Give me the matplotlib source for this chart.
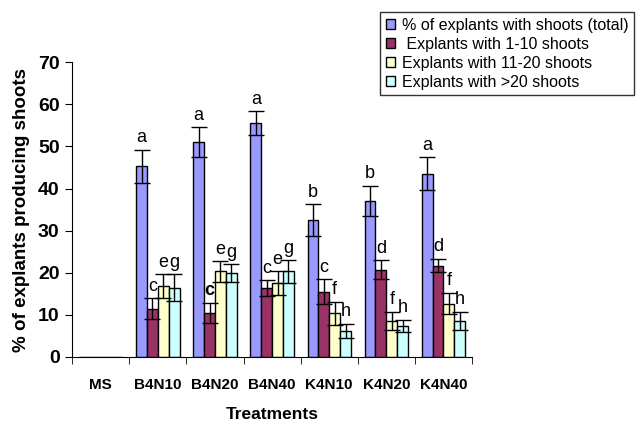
import numpy as np
import matplotlib.pyplot as plt
from matplotlib.patches import Patch

plt.rcParams['font.family'] = ['Liberation Sans', 'DejaVu Sans']

treatments = ['MS', 'B4N10', 'B4N20', 'B4N40', 'K4N10', 'K4N20', 'K4N40']
series = ['% of explants with shoots (total)', ' Explants with 1-10 shoots',
          'Explants with 11-20 shoots', 'Explants with >20 shoots']
colors = ['#9999FF', '#993366', '#FFFFCC', '#CCFFFF']

total = [0, 45.3, 51.0, 55.5, 32.5, 37.1, 43.5]
total_err = [0, 3.9, 3.5, 2.8, 3.8, 3.6, 3.9]
s1_10 = [0, 11.5, 10.5, 16.4, 15.5, 20.7, 21.7]
s1_10_err = [0, 2.5, 2.4, 1.8, 3.0, 2.3, 1.6]
s11_20 = [0, 16.8, 20.3, 17.5, 10.4, 8.6, 12.7]
s11_20_err = [0, 2.9, 2.5, 2.8, 2.7, 2.2, 2.6]
s20 = [0, 16.5, 20.0, 20.3, 6.2, 7.4, 8.6]
s20_err = [0, 3.2, 2.1, 2.7, 1.7, 1.5, 2.2]

letters = [
    ['', 'a', 'a', 'a', 'b', 'b', 'a'],
    ['', 'c', 'c', 'c', 'c', 'd', 'd'],
    ['', 'e', 'e', 'e', 'f', 'f', 'f'],
    ['', 'g', 'g', 'g', 'h', 'h', 'h'],
]

values = [total, s1_10, s11_20, s20]
errors = [total_err, s1_10_err, s11_20_err, s20_err]

fig = plt.figure(figsize=(6.44, 4.26), dpi=100)
ax = fig.add_axes([0.112, 0.162, 0.621, 0.692])

x = np.arange(len(treatments))
w = 0.19
for i, (vals, errs, col) in enumerate(zip(values, errors, colors)):
    pos = x + (i - 1.5) * w
    ax.bar(pos, vals, w, color=col, edgecolor='black', linewidth=1.0)
    e = [v if v > 0 else np.nan for v in errs]
    ax.errorbar(pos, vals, yerr=e, fmt='none', ecolor='black',
                elinewidth=1.0, capsize=6, capthick=1.0)
    for j in range(len(treatments)):
        if letters[i][j]:
            bold = (i == 1 and j == 2)
            ax.text(pos[j], vals[j] + errs[j] + 0.8, letters[i][j],
                    ha='center', va='bottom', fontsize=13,
                    fontweight='bold' if bold else 'normal')

ax.set_xlim(-0.5, len(treatments) - 0.5)
ax.set_ylim(0, 70)
ax.set_yticks(range(0, 71, 10))
ax.set_xticks(x)
ax.set_xticklabels(treatments, fontweight='bold', fontsize=11)
ax.set_xticks(np.arange(-0.5, len(treatments)), minor=True)
ax.tick_params(axis='x', which='major', length=0, pad=15)
ax.tick_params(axis='x', which='minor', length=5, direction='out')
ax.tick_params(axis='y', length=5, direction='out', pad=4)
for lab in ax.get_yticklabels():
    lab.set_fontweight('bold')
    lab.set_fontsize(14)

for s in ['top', 'right']:
    ax.spines[s].set_visible(False)

ax.set_xlabel('Treatments', fontweight='bold', fontsize=12.5, labelpad=11)
ax.set_ylabel('% of explants producing shoots', fontweight='bold',
              fontsize=13.5, labelpad=6)

handles = [Patch(facecolor=c, edgecolor='black', linewidth=1.0) for c in colors]
fig.legend(handles, series, loc='upper left', bbox_to_anchor=(0.578, 0.99),
           fontsize=11.5, frameon=True, fancybox=False, edgecolor='black',
           handlelength=0.6, handleheight=0.6, handletextpad=0.4,
           labelspacing=0.25, borderpad=0.35)

fig.savefig('out.png', dpi=100)
